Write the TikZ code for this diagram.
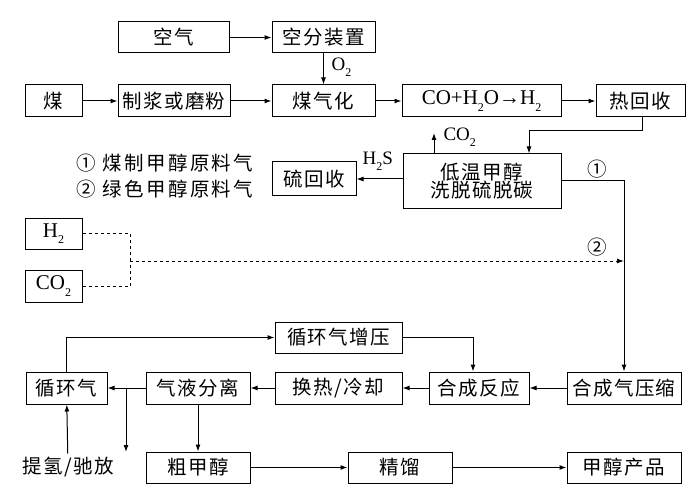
\documentclass[tikz,border=0pt]{standalone}
\usepackage{fontspec}
\setmainfont{Liberation Serif}
\newfontfamily\cjk[LetterSpace=7]{Noto Sans CJK SC}
\newfontfamily\cjkn{Noto Sans CJK SC}
\newcommand\xb[1]{\raisebox{-0.3em}{\fontsize{12}{12}\selectfont #1}}
\usetikzlibrary{arrows.meta,calc}
\tikzset{
  box/.style={draw,line width=1pt,minimum height=31pt,inner sep=0pt,
    font={\fontsize{19.5}{21}\selectfont\cjk}},
  latin/.style={font={\fontsize{21}{22}\selectfont}},
  lab/.style={font={\fontsize{19}{20}\selectfont}},
  zhlab/.style={font={\fontsize{19.5}{21}\selectfont\cjk}},
  flow/.style={line width=1pt,-{Latex[length=7pt,width=5pt]}},
  pipe/.style={line width=1pt},
}

\begin{document}
\begin{tikzpicture}[x=1pt,y=-1pt]
  \useasboundingbox (0,0) rectangle (700,494);

  \node[box,minimum width=111pt] (kongqi) at (173.5,37.5) {空气};
  \node[box,minimum width=103pt] (kongfen) at (323.5,37.5) {空分装置};
  \node[box,minimum width=57pt,minimum height=32pt] (mei) at (53.5,101) {煤};
  \node[box,minimum width=112pt,minimum height=32pt] (zhijiang) at (174,101) {制浆或磨粉};
  \node[box,minimum width=103pt,minimum height=32pt] (meiqihua) at (323.5,101) {煤气化};
  \node[box,latin,minimum width=159pt,minimum height=32pt] (bianhuan) at (481.5,101)
    {CO+H\xb{2}O→H\xb{2}};
  \node[box,minimum width=89pt,minimum height=32pt] (rehuishou) at (640.5,101) {热回收};
  \node[box,minimum width=158pt,minimum height=54pt,align=center] (diwen) at (482,181)
    {低温甲醇\\[-3pt]洗脱硫脱碳};
  \node[box,minimum width=84pt,minimum height=34pt] (liuhuishou) at (314,179) {硫回收};
  \node[box,latin,minimum width=57pt] (qing) at (53.5,233.5) {H\xb{2}};
  \node[box,latin,minimum width=57pt,minimum height=32pt] (eryang) at (53.5,286) {CO\xb{2}};
  \node[box,minimum width=127pt] (zengya) at (338.5,337.5) {循环气增压};
  \node[box,minimum width=81pt,minimum height=32pt] (xunhuanqi) at (66.5,388) {循环气};
  \node[box,minimum width=104pt,minimum height=32pt] (qiye) at (198,388) {气液分离};
  \node[box,minimum width=127pt,minimum height=32pt] (huanre) at (338.5,388) {换热/冷却};
  \node[box,minimum width=100pt,minimum height=32pt] (hecheng) at (479,388) {合成反应};
  \node[box,minimum width=114pt,minimum height=32pt] (yasuo) at (624,388) {合成气压缩};
  \node[box,minimum width=104pt] (cujiachun) at (198,467.5) {粗甲醇};
  \node[box,minimum width=104pt] (jingliu) at (400,467.5) {精馏};
  \node[box,minimum width=114pt] (chanpin) at (624,467.5) {甲醇产品};

  \node[zhlab,anchor=west] (tuli1) at (73,163) {\addfontfeature{LetterSpace=12}① 煤制甲醇原料气};
  \node[zhlab,anchor=west] (tuli2) at (73,189) {\addfontfeature{LetterSpace=12}② 绿色甲醇原料气};
  \node[zhlab] (tiqing) at (68,467) {提氢/驰放};

  \node[lab,anchor=west] (lo2) at (328,67) {O\xb{2}};
  \node[lab,anchor=west] (lco2) at (440,137) {CO\xb{2}};
  \node[lab,anchor=west] (lh2s) at (359,161) {H\xb{2}S};
  \node[zhlab] (lyi) at (597,169) {①};
  \node[zhlab] (ler) at (597,247) {②};

  \coordinate (zhe) at (529,131);
  \coordinate (co2out) at (434,133);
  \coordinate (hui) at (130,261);
  \coordinate (ru) at (624,261);
  \coordinate (fen) at (126,388);
  \coordinate (paifang) at (126,452);

  \draw[flow] (kongqi) -- (kongfen);
  \draw[flow] (kongfen) -- (meiqihua);
  \draw[flow] (mei) -- (zhijiang);
  \draw[flow] (zhijiang) -- (meiqihua);
  \draw[flow] (meiqihua) -- (bianhuan);
  \draw[flow] (bianhuan) -- (rehuishou);
  \draw[flow] ([xshift=1.5pt]rehuishou.south) |- (zhe) -- (zhe |- diwen.north);
  \draw[flow] (co2out |- diwen.north) -- (co2out);
  \draw[flow] (diwen.west |- liuhuishou) -- (liuhuishou);
  \draw[flow] (diwen.east) -| (yasuo.north);

  \draw[pipe,dashed] (qing.east) -| (hui);
  \draw[pipe,dashed] (eryang.east) -| (hui);
  \draw[flow,dashed] (hui) -- (ru);

  \draw[flow] (yasuo) -- (hecheng);
  \draw[flow] (hecheng) -- (huanre);
  \draw[flow] (huanre) -- (qiye);
  \draw[flow] (qiye) -- (xunhuanqi);
  \draw[flow] (fen) -- (paifang);
  \draw[flow] (xunhuanqi.north) |- (zengya.west);
  \draw[flow] (zengya.east) -| ([xshift=-6pt]hecheng.north);
  \draw[flow] (qiye) -- (cujiachun);
  \draw[flow] (tiqing) -- (xunhuanqi);
  \draw[flow] (cujiachun) -- (jingliu);
  \draw[flow] (jingliu) -- (chanpin);
\end{tikzpicture}
\end{document}
